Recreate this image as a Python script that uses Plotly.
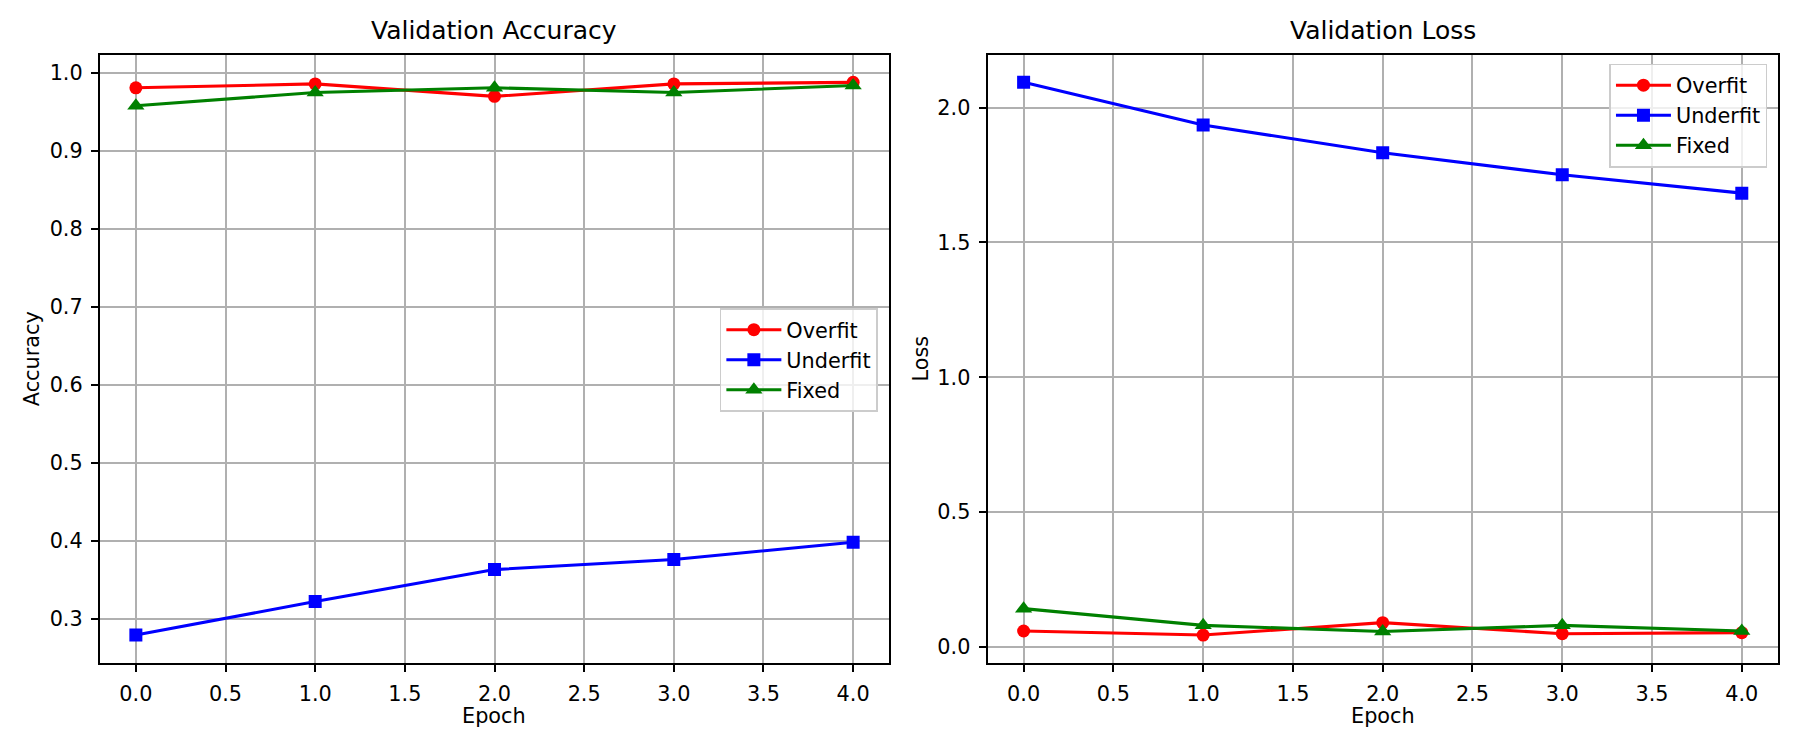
import plotly.graph_objects as go

epochs = [0, 1, 2, 3, 4]
acc_overfit = [0.981, 0.986, 0.970, 0.986, 0.988]
acc_underfit = [0.279, 0.322, 0.363, 0.376, 0.398]
acc_fixed = [0.958, 0.975, 0.981, 0.975, 0.984]
loss_overfit = [0.059, 0.044, 0.090, 0.049, 0.053]
loss_underfit = [2.094, 1.936, 1.833, 1.751, 1.683]
loss_fixed = [0.142, 0.080, 0.057, 0.080, 0.059]

series_names = ["Overfit", "Underfit", "Fixed"]
colors = ["#ff0000", "#0000ff", "#008000"]
symbols = ["circle", "square", "triangle-up"]
msizes = [13, 13, 15]

x_ticks = [0, 0.5, 1, 1.5, 2, 2.5, 3, 3.5, 4]
acc_ticks = [0.3, 0.4, 0.5, 0.6, 0.7, 0.8, 0.9, 1.0]
loss_ticks = [0.0, 0.5, 1.0, 1.5, 2.0]

FONT = "DejaVu Sans"
FS = 20.8


def margin_range(vals, frac=0.05):
    lo, hi = min(vals), max(vals)
    span = hi - lo
    return [lo - frac * span, hi + frac * span]


fig = go.Figure()

acc_data = [acc_overfit, acc_underfit, acc_fixed]
loss_data = [loss_overfit, loss_underfit, loss_fixed]

for i, name in enumerate(series_names):
    fig.add_trace(go.Scatter(
        x=epochs, y=acc_data[i], name=name, mode="lines+markers",
        line=dict(color=colors[i], width=3.1),
        marker=dict(symbol=symbols[i], size=msizes[i], color=colors[i]),
        xaxis="x", yaxis="y", legend="legend",
    ))
for i, name in enumerate(series_names):
    fig.add_trace(go.Scatter(
        x=epochs, y=loss_data[i], name=name, mode="lines+markers",
        line=dict(color=colors[i], width=3.1),
        marker=dict(symbol=symbols[i], size=msizes[i], color=colors[i]),
        xaxis="x2", yaxis="y2", legend="legend2",
    ))

W, H = 1800, 750
ax_l = dict(left=100, right=889)
ax_r = dict(left=987.7, right=1777.7)
top, bottom = 54.7, 662.7

common = dict(
    showline=True, linecolor="black", linewidth=1.67, mirror=True,
    showgrid=True, gridcolor="#b0b0b0", gridwidth=1.67,
    ticks="outside", ticklen=7.3, tickwidth=1.67, tickcolor="black",
    tickfont=dict(family=FONT, size=FS, color="black"),
    zeroline=False, ticklabelstandoff=4,
)

acc_all = acc_overfit + acc_underfit + acc_fixed
loss_all = loss_overfit + loss_underfit + loss_fixed
xr = margin_range(epochs)

legend_common = dict(
    xanchor="right", yanchor="top",
    bgcolor="rgba(255,255,255,0.8)", bordercolor="#cccccc", borderwidth=1.67,
    font=dict(family=FONT, size=FS, color="black"),
    itemwidth=55, tracegroupgap=0,
)

fig.update_layout(
    width=W, height=H,
    margin=dict(l=0, r=0, t=0, b=0),
    paper_bgcolor="white", plot_bgcolor="white",
    font=dict(family=FONT, size=FS, color="black"),
    xaxis=dict(domain=[ax_l["left"] / W, ax_l["right"] / W], anchor="y",
               range=xr, tickvals=x_ticks, tickformat=".1f", **common),
    yaxis=dict(domain=[1 - bottom / H, 1 - top / H], anchor="x",
               range=margin_range(acc_all), tickvals=acc_ticks, tickformat=".1f",
               title=dict(text="Accuracy", font=dict(family=FONT, size=FS), standoff=4),
               **common),
    xaxis2=dict(domain=[ax_r["left"] / W, ax_r["right"] / W], anchor="y2",
                range=xr, tickvals=x_ticks, tickformat=".1f", **common),
    yaxis2=dict(domain=[1 - bottom / H, 1 - top / H], anchor="x2",
                range=margin_range(loss_all), tickvals=loss_ticks, tickformat=".1f",
                title=dict(text="Loss", font=dict(family=FONT, size=FS), standoff=3),
                **common),
    legend=dict(x=877.7 / W, y=1 - 308 / H, **legend_common),
    legend2=dict(x=1767.3 / W, y=1 - 63.5 / H, **legend_common),
    showlegend=True,
)

title_font = dict(family=FONT, size=25, color="black")
label_font = dict(family=FONT, size=FS, color="black")
for ax, title in ((ax_l, "Validation Accuracy"), (ax_r, "Validation Loss")):
    cx = (ax["left"] + ax["right"]) / 2 / W
    fig.add_annotation(text=title, xref="paper", yref="paper",
                       x=cx, y=1 - 47 / H, xanchor="center", yanchor="bottom",
                       showarrow=False, font=title_font)
    fig.add_annotation(text="Epoch", xref="paper", yref="paper",
                       x=cx, y=1 - 703 / H, xanchor="center", yanchor="top",
                       showarrow=False, font=label_font, borderpad=0)

fig.write_html("out.html")
